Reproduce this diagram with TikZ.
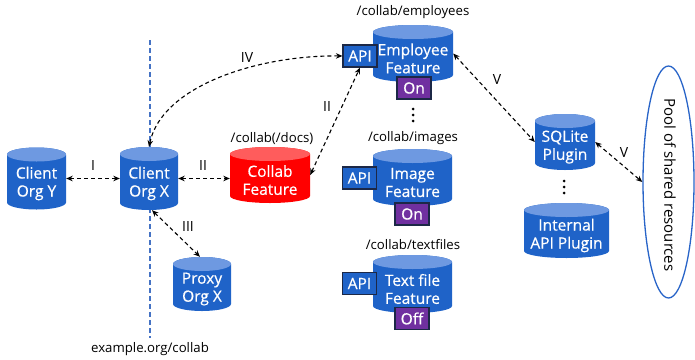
\documentclass[tikz,border=0pt]{standalone}
\usepackage{fontspec}
\setmainfont{Open Sans}
\newfontfamily\heavyfont{Open Sans}[FakeBold=0.5]
\usetikzlibrary{arrows.meta,shapes.geometric}

\definecolor{cylblue}{RGB}{31,99,200}
\definecolor{cyltop}{RGB}{110,153,225}
\definecolor{cylred}{RGB}{255,0,0}
\definecolor{cylredtop}{RGB}{255,92,92}
\definecolor{flagpurple}{RGB}{112,48,160}
\definecolor{boxedge}{RGB}{28,40,70}
\definecolor{boundary}{RGB}{68,114,196}
\definecolor{poolblue}{RGB}{40,100,200}

\newcommand\cylfontsize{\heavyfont\fontsize{15.5}{18}\selectfont}
\newcommand\poolfontsize{\fontsize{15}{18}\selectfont}
\newcommand\lblfontsize{\fontsize{13.2}{15}\selectfont}
\newcommand\numfontsize{\fontsize{14}{16}\selectfont}

\tikzset{
  cylframe/.style={rectangle, inner sep=0pt, draw=none},
  cyltext/.style={text=white, font=\cylfontsize, align=center, inner sep=0pt},
  flagbox/.style={draw=boxedge, line width=1.2pt, text=white, font=\cylfontsize,
    minimum width=34pt, minimum height=22pt, inner sep=0pt},
  apibox/.style={flagbox, fill=cylblue},
  statebox/.style={flagbox, fill=flagpurple},
  pathlabel/.style={font=\lblfontsize, text=black, inner sep=0pt},
  numeral/.style={font=\numfontsize, text=black, inner sep=0pt},
  link/.style={line width=1.1pt, dash pattern=on 4pt off 3pt,
    {Stealth[length=6.5pt,width=5.5pt]}-{Stealth[length=6.5pt,width=5.5pt]}},
  sepdot/.style={circle, fill=black, inner sep=0pt, minimum size=3pt},
  poolshape/.style={ellipse, draw=poolblue, line width=1.3pt, inner sep=0pt},
  boundaryline/.style={boundary, line width=1.3pt, dash pattern=on 5pt off 3pt}
}

% name, x, y, width, height, body colour, top colour, text
\newcommand\drawcyl[8]{%
  \pgfmathsetmacro\cylL{#2-#4/2}%
  \pgfmathsetmacro\cylR{#2+#4/2}%
  \pgfmathsetmacro\cylT{#3-#5/2+7}%
  \pgfmathsetmacro\cylB{#3+#5/2-7}%
  \pgfmathsetmacro\cylH{#4/2}%
  \fill[#6] (\cylL,\cylT) -- (\cylL,\cylB)
    arc[start angle=180,end angle=360,x radius=\cylH pt,y radius=7pt]
    -- (\cylR,\cylT)
    arc[start angle=0,end angle=180,x radius=\cylH pt,y radius=7pt] -- cycle;
  \fill[#7] (#2,\cylT) ellipse[x radius=\cylH pt,y radius=7pt];
  \node[cylframe,minimum width=#4pt,minimum height=#5pt] (#1) at (#2,#3) {};
  \node[cyltext] (#1-text) at (#2,#3+5) {#8};
}

\begin{document}
\begin{tikzpicture}[x=1pt,y=-1pt]
\useasboundingbox (0,0) rectangle (695,359);

% domain boundary
\coordinate (bndtop) at (150,40);
\coordinate (bndbot) at (150,338);
\draw[boundaryline] (bndtop) -- (bndbot);
\node[pathlabel] (domain) at (150,349) {example.org/collab};

% clients
\drawcyl{cy}{36.5}{178.5}{59}{62}{cylblue}{cyltop}{Client\\Org Y}
\drawcyl{cx}{149}{178.5}{58}{63}{cylblue}{cyltop}{Client\\Org X}
\drawcyl{proxy}{202}{284}{58}{54}{cylblue}{cyltop}{Proxy\\Org X}

% collab entry point
\node[pathlabel] (lbldocs) at (272,139) {/collab(/docs)};
\drawcyl{collab}{270}{175}{80}{56}{cylred}{cylredtop}{Collab\\Feature}

% features
\node[pathlabel] (lblemp) at (413,12) {/collab/employees};
\drawcyl{emp}{413}{53.5}{80}{57}{cylblue}{cyltop}{Employee\\Feature}
\node[apibox] (empapi) at (360,56) {API};
\node[statebox] (empstate) at (414,88) {On};
\node[sepdot] (d1) at (413,109) {};
\node[sepdot] (d2) at (413,115) {};
\node[sepdot] (d3) at (413,121) {};

\node[pathlabel] (lblimg) at (413,138) {/collab/images};
\drawcyl{img}{412.5}{177.5}{79}{57}{cylblue}{cyltop}{Image\\Feature}
\node[apibox] (imgapi) at (359.5,178) {API};
\node[statebox] (imgstate) at (412,214) {On};

\node[pathlabel] (lbltxt) at (413,245) {/collab/textfiles};
\drawcyl{txt}{412.5}{284}{79}{58}{cylblue}{cyltop}{Text file\\Feature}
\node[apibox] (txtapi) at (359.5,283.5) {API};
\node[statebox] (txtstate) at (412,318.5) {Off};

% plugins
\drawcyl{sqlite}{565}{142}{60}{56}{cylblue}{cyltop}{SQLite\\Plugin}
\node[sepdot] (e1) at (564,181) {};
\node[sepdot] (e2) at (564,187) {};
\node[sepdot] (e3) at (564,193) {};
\drawcyl{internal}{566.5}{230.5}{85}{55}{cylblue}{cyltop}{Internal\\API Plugin}

% shared resources
\node[poolshape, minimum width=51pt, minimum height=232pt] (pool) at (668.5,182) {};
\node[rotate=-90, font=\poolfontsize, inner sep=0pt] (pooltext) at (670,185) {Pool of shared resources};

% connections
\draw[link] (cy.east) -- (cx.west);
\node[numeral] (n1) at (93,165) {I};
\draw[link] (cx.east) -- (collab.west |- cx.east);
\node[numeral] (n2) at (203,165) {II};
\draw[link] ([xshift=3pt]cx.south) -- ([xshift=-2pt]proxy.north);
\node[numeral] (n3) at (188,226) {III};
\draw[link] (cx.north) .. controls (162,85) and (260,55) .. (empapi.west);
\node[numeral] (n4) at (247,58) {IV};
\draw[link] (collab.east) -- (empapi.south);
\node[numeral] (n5) at (327,106) {II};
\draw[link] (emp.east) -- (sqlite.west);
\node[numeral] (n6) at (497,80) {V};
\draw[link] (sqlite.east) -- (pool.west);
\node[numeral] (n7) at (624,152) {V};
\end{tikzpicture}
\end{document}
